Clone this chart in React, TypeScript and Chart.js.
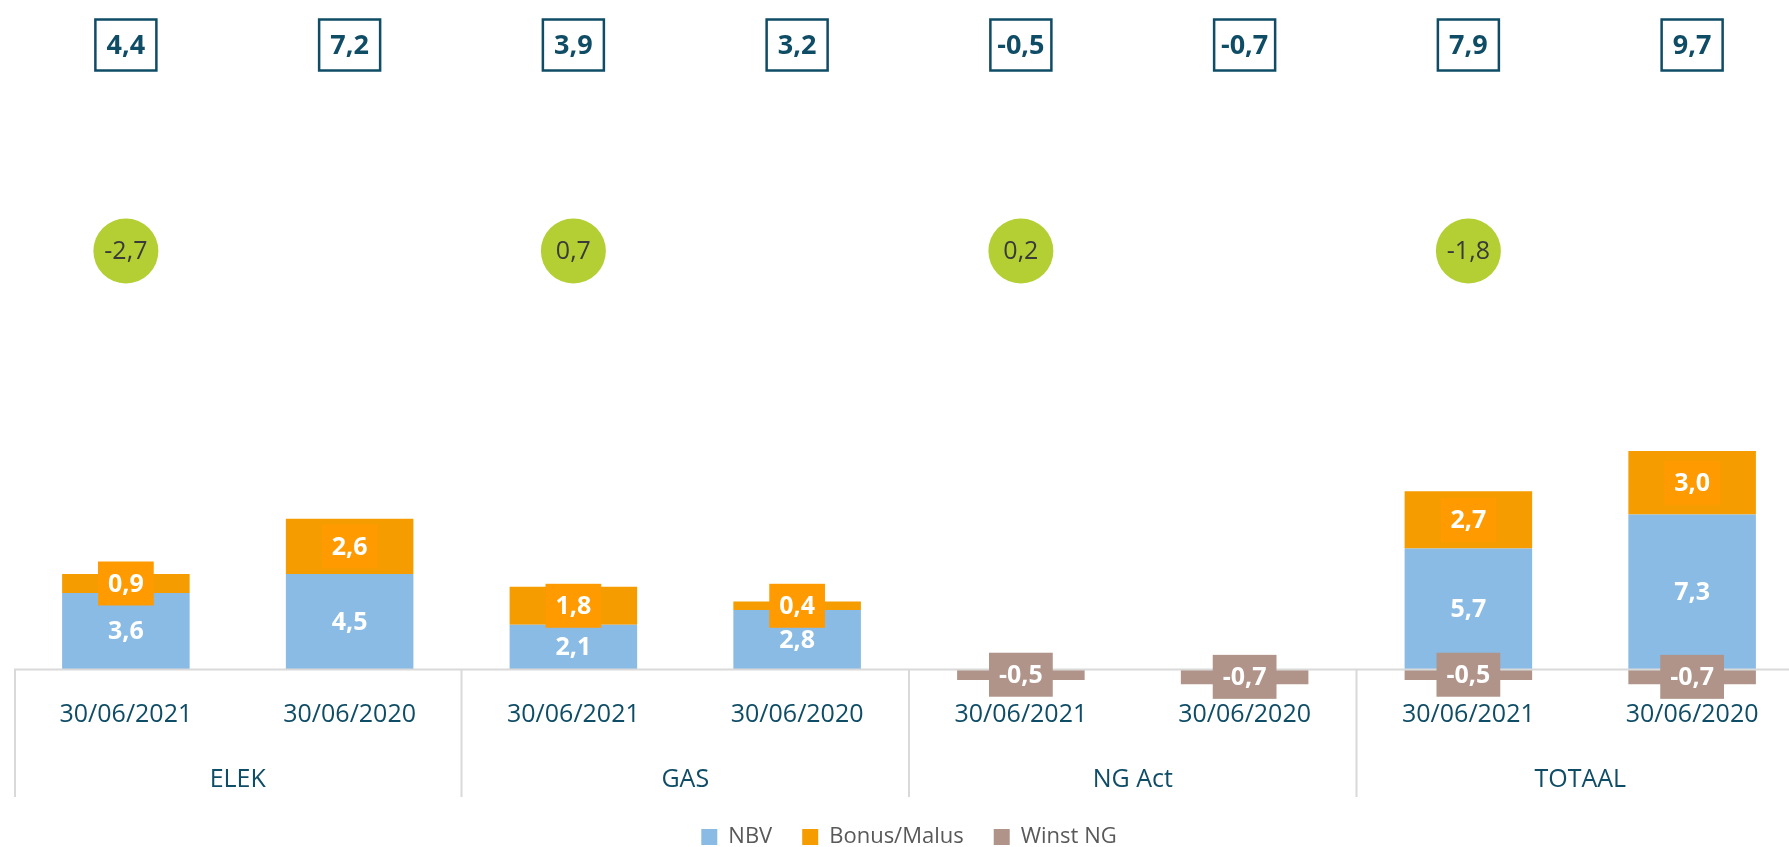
import React, { useEffect, useRef } from "react";
import { Chart, registerables } from "chart.js";

Chart.register(...registerables);

const categories = ["30/06/2021", "30/06/2020", "30/06/2021", "30/06/2020", "30/06/2021", "30/06/2020", "30/06/2021", "30/06/2020"];
const groups = ["ELEK", "GAS", "NG Act", "TOTAAL"];
const nbv = [3.6, 4.5, 2.1, 2.8, 0, 0, 5.7, 7.3];
const bonusMalus = [0.9, 2.6, 1.8, 0.4, 0, 0, 2.7, 3.0];
const winstNG = [0, 0, 0, 0, -0.5, -0.7, -0.5, -0.7];
const totals = [4.4, 7.2, 3.9, 3.2, -0.5, -0.7, 7.9, 9.7];
const differences = [-2.7, null, 0.7, null, 0.2, null, -1.8, null];

const FONT = "'Open Sans', 'Noto Sans', sans-serif";
const TEAL = "#0F4C66";
const GRID = "#D9D9D9";
const BLUE = "#8ABBE5";
const ORANGE = "#F49C00";
const ORANGE_LABEL = "#FF9B00";
const BROWN = "#B09489";
const GREEN = "#B3CF34";

const fmt = (v: number) => v.toFixed(1).replace(".", ",");

const labelBg: (string | null)[] = [null, ORANGE_LABEL, BROWN];

const overlayPlugin = {
  id: "overlay",
  afterDatasetsDraw(chart: any) {
    const { ctx, chartArea } = chart;
    const xs = chart.scales.x;
    const ys = chart.scales.y;
    const y0 = ys.getPixelForValue(0);
    ctx.save();

    // baseline
    ctx.strokeStyle = GRID;
    ctx.lineWidth = 2;
    ctx.beginPath();
    ctx.moveTo(xs.left, y0);
    ctx.lineTo(xs.right, y0);
    ctx.stroke();

    // group dividers
    const bounds: number[] = [xs.left + 1];
    for (let g = 1; g < groups.length; g++) {
      bounds.push((xs.getPixelForTick(2 * g - 1) + xs.getPixelForTick(2 * g)) / 2);
    }
    bounds.push(xs.right - 1);
    bounds.forEach((x) => {
      ctx.beginPath();
      ctx.moveTo(x, y0);
      ctx.lineTo(x, xs.bottom + 1);
      ctx.stroke();
    });

    // group labels
    ctx.fillStyle = TEAL;
    ctx.font = `25px ${FONT}`;
    ctx.textAlign = "center";
    ctx.textBaseline = "middle";
    groups.forEach((g, i) => {
      const cx = (xs.getPixelForTick(2 * i) + xs.getPixelForTick(2 * i + 1)) / 2;
      ctx.fillText(g, cx, xs.bottom - 16);
    });

    // bar labels
    ctx.font = `bold 25px ${FONT}`;
    chart.data.datasets.forEach((ds: any, di: number) => {
      const meta = chart.getDatasetMeta(di);
      meta.data.forEach((bar: any, j: number) => {
        const v = ds.data[j];
        if (!v) return;
        const cy = (bar.y + bar.base) / 2;
        const txt = fmt(v);
        const bg = labelBg[di];
        if (bg) {
          const w = ctx.measureText(txt).width + 20;
          const h = 44;
          ctx.fillStyle = bg;
          ctx.fillRect(bar.x - w / 2, cy - h / 2, w, h);
        }
        ctx.fillStyle = "#FFFFFF";
        ctx.fillText(txt, bar.x, cy + 1);
      });
    });

    // top total boxes
    totals.forEach((t, i) => {
      const cx = xs.getPixelForTick(i);
      const cy = chartArea.top + 12;
      const w = 61;
      const h = 51;
      ctx.fillStyle = "#FFFFFF";
      ctx.fillRect(cx - w / 2, cy - h / 2, w, h);
      ctx.strokeStyle = TEAL;
      ctx.lineWidth = 2.5;
      ctx.strokeRect(cx - w / 2, cy - h / 2, w, h);
      ctx.fillStyle = TEAL;
      ctx.font = `bold 27px ${FONT}`;
      ctx.fillText(fmt(t), cx, cy + 1);
    });

    // difference circles
    differences.forEach((d, i) => {
      if (d === null) return;
      const cx = xs.getPixelForTick(i);
      const cy = chartArea.top + 218;
      ctx.fillStyle = GREEN;
      ctx.beginPath();
      ctx.arc(cx, cy, 32.5, 0, Math.PI * 2);
      ctx.fill();
      ctx.fillStyle = "#3A3A3A";
      ctx.font = `25px ${FONT}`;
      ctx.fillText(fmt(d), cx, cy + 1);
    });

    ctx.restore();
  },
};

export default function App() {
  const ref = useRef<HTMLCanvasElement | null>(null);

  useEffect(() => {
    if (!ref.current) return;
    const chart = new Chart(ref.current, {
      type: "bar",
      data: {
        labels: categories,
        datasets: [
          { label: "NBV", data: nbv, backgroundColor: BLUE, borderWidth: 0 },
          { label: "Bonus/Malus", data: bonusMalus, backgroundColor: ORANGE, borderWidth: 0 },
          { label: "Winst NG", data: winstNG, backgroundColor: BROWN, borderWidth: 0 },
        ],
      },
      options: {
        responsive: false,
        animation: false,
        devicePixelRatio: 1,
        layout: { padding: { top: 33, left: 14, right: 1, bottom: 0 } },
        datasets: { bar: { categoryPercentage: 1, barPercentage: 0.57 } },
        scales: {
          x: {
            stacked: true,
            grid: { display: false, drawTicks: false },
            border: { display: false },
            ticks: {
              autoSkip: false,
              maxRotation: 0,
              minRotation: 0,
              padding: 3,
              color: TEAL,
              font: { family: FONT, size: 25 },
            },
            afterFit: (scale: any) => {
              scale.height = 99;
            },
          },
          y: {
            stacked: true,
            display: false,
            min: -1.3,
            max: 30,
          },
        },
        plugins: {
          legend: {
            position: "bottom",
            labels: {
              boxWidth: 16,
              boxHeight: 16,
              padding: 30,
              color: "#595959",
              font: { family: FONT, size: 22 },
            },
          },
          tooltip: { enabled: false },
        },
      },
      plugins: [overlayPlugin],
    });
    return () => chart.destroy();
  }, []);

  return (
    <div style={{ position: "fixed", left: 0, top: 0, width: 1789, height: 847, overflow: "hidden", background: "#FFFFFF" }}>
      <canvas ref={ref} width={1805} height={858} style={{ width: 1805, height: 858, display: "block" }} />
    </div>
  );
}
